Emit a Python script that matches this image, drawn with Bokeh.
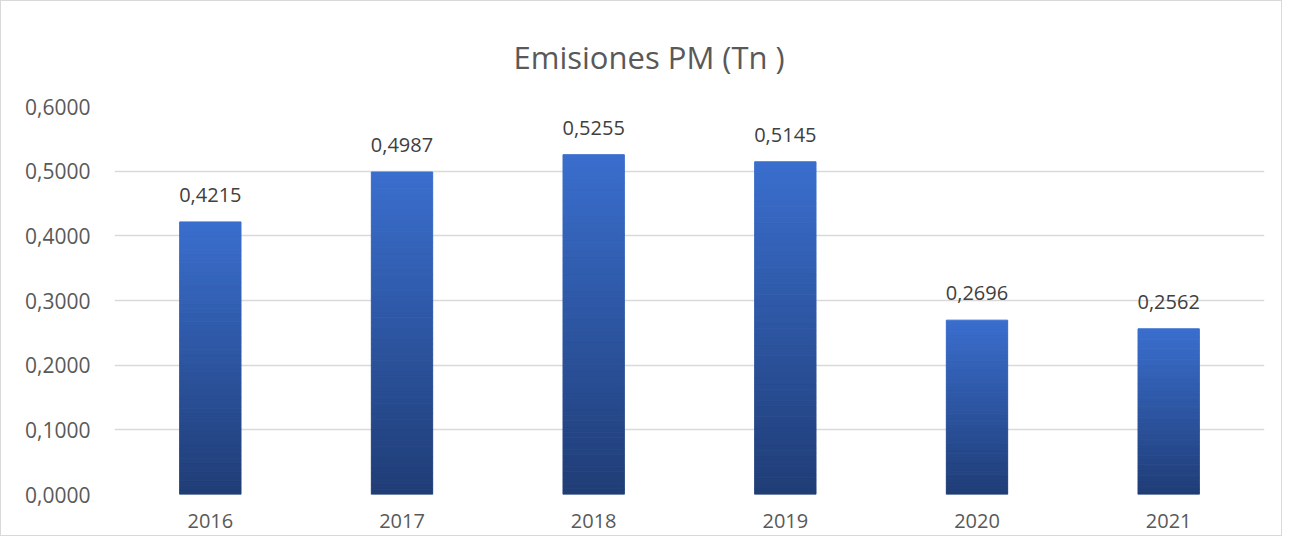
from bokeh.plotting import figure
from bokeh.models import ColumnDataSource, CustomJSTickFormatter, FixedTicker, Range1d
from bokeh.core.properties import value
from bokeh.embed import file_html
from bokeh.resources import INLINE

years = ["2016", "2017", "2018", "2019", "2020", "2021"]
emissions = [0.4215, 0.4987, 0.5255, 0.5145, 0.2696, 0.2562]
y_ticks = [0.0, 0.1, 0.2, 0.3, 0.4, 0.5, 0.6]
title_text = "Emisiones  PM (Tn )"

FONT = "Open Sans"
TOP_RGB = (59, 111, 206)
BOT_RGB = (32, 61, 118)
N_SLICES = 60

p = figure(
    x_range=years,
    y_range=Range1d(0, 0.6),
    width=1282,
    height=536,
    output_backend="svg",
    toolbar_location=None,
    min_border_left=113,
    min_border_right=19,
    min_border_top=105,
    min_border_bottom=43,
)
p.styles = {"border": "1px solid #d9d9d9", "box-sizing": "border-box"}

# gradient bars built from slices of each value
xs, bots, tops, cols = [], [], [], []
for yr, v in zip(years, emissions):
    for i in range(N_SLICES):
        t = (i + 0.5) / N_SLICES
        r = int(BOT_RGB[0] + (TOP_RGB[0] - BOT_RGB[0]) * t)
        g = int(BOT_RGB[1] + (TOP_RGB[1] - BOT_RGB[1]) * t)
        b = int(BOT_RGB[2] + (TOP_RGB[2] - BOT_RGB[2]) * t)
        xs.append(yr)
        bots.append(v * i / N_SLICES)
        tops.append(v * (i + 1) / N_SLICES)
        cols.append("#%02x%02x%02x" % (r, g, b))
bar_src = ColumnDataSource(dict(x=xs, bottom=bots, top=tops, color=cols))
p.vbar(x="x", bottom="bottom", top="top", width=0.32, source=bar_src,
       fill_color="color", line_color="color", line_width=1)

labels = [f"{v:.4f}".replace(".", ",") for v in emissions]
lab_src = ColumnDataSource(dict(x=years, y=emissions, text=labels))
p.text(x="x", y="y", text="text", source=lab_src, text_align="center",
       text_baseline="alphabetic", y_offset=-27, text_font=value(FONT),
       text_font_size="20px", text_color="#404040")

p.title.text = title_text
p.title.align = "left"
p.title.text_font = FONT
p.title.text_font_size = "31px"
p.title.text_font_style = "normal"
p.title.text_color = "#595959"
p.title.offset = 399
p.title.standoff = 58

p.yaxis.ticker = FixedTicker(ticks=y_ticks)
p.yaxis.formatter = CustomJSTickFormatter(code="return tick.toFixed(4).replace('.', ',');")
for ax in (p.xaxis, p.yaxis):
    ax.axis_line_color = None
    ax.major_tick_line_color = None
    ax.minor_tick_line_color = None
    ax.major_label_text_font = FONT
    ax.major_label_text_color = "#595959"
p.yaxis.major_label_text_font_size = "21px"
p.xaxis.major_label_text_font_size = "20px"
p.yaxis.major_label_standoff = 18
p.xaxis.major_label_standoff = 13

p.xgrid.grid_line_color = None
p.ygrid.grid_line_color = "#d9d9d9"
p.ygrid.grid_line_width = 1.5
p.outline_line_color = None
p.x_range.range_padding = 0

open("out.html", "w").write(file_html(p, INLINE))
